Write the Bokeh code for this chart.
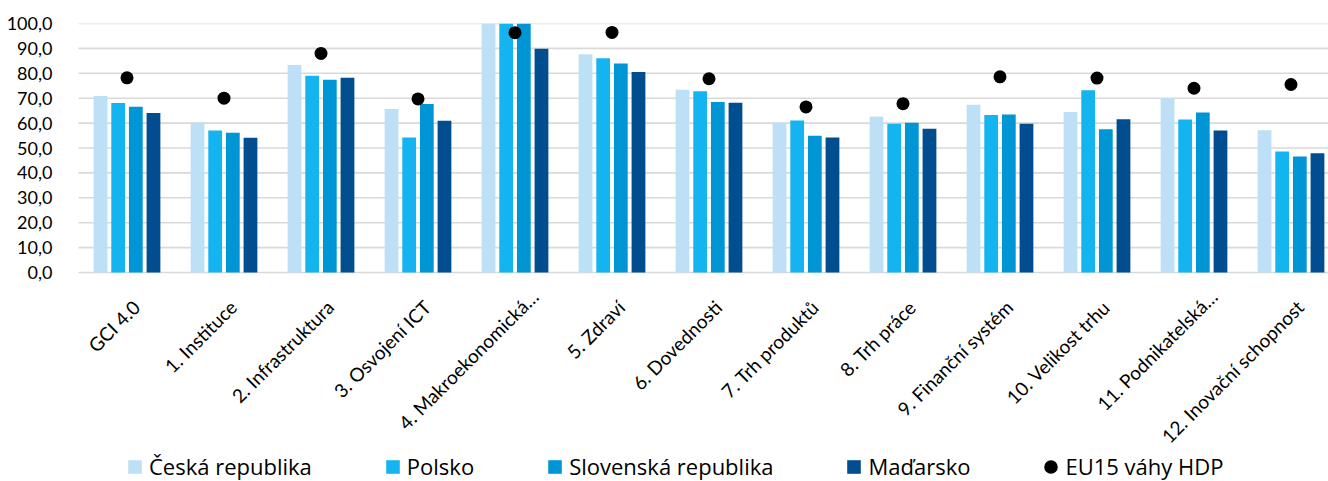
import numpy as np
from bokeh.plotting import figure
from bokeh.models import Range1d, FixedTicker, Legend, LegendItem
from bokeh.core.properties import value
from bokeh.embed import file_html
from bokeh.resources import INLINE

categories = ["GCI 4.0", "1. Instituce", "2. Infrastruktura", "3. Osvojení ICT",
              "4. Makroekonomická…", "5. Zdraví", "6. Dovednosti", "7. Trh produktů",
              "8. Trh práce", "9. Finanční systém", "10. Velikost trhu",
              "11. Podnikatelská…", "12. Inovační schopnost"]
series_names = ["Česká republika", "Polsko", "Slovenská republika", "Maďarsko"]
cz = [70.9, 60.2, 83.3, 65.7, 100.0, 87.7, 73.4, 60.1, 62.7, 67.4, 64.5, 70.0, 57.1]
pl = [68.1, 57.0, 79.0, 54.2, 100.0, 86.0, 72.8, 61.0, 59.7, 63.3, 73.2, 61.4, 48.6]
sk = [66.6, 56.1, 77.4, 67.7, 100.0, 83.9, 68.5, 54.9, 60.1, 63.5, 57.5, 64.3, 46.6]
hu = [64.1, 54.1, 78.2, 60.9, 89.9, 80.5, 68.2, 54.2, 57.7, 59.7, 61.5, 57.0, 47.9]
eu15_name = "EU15 váhy HDP"
eu15 = [78.2, 70.0, 88.0, 69.7, 96.3, 96.4, 77.8, 66.5, 67.8, 78.6, 78.1, 74.0, 75.5]
y_ticks = [0, 10, 20, 30, 40, 50, 60, 70, 80, 90, 100]

colors = ["#BDE0F6", "#14B4F0", "#0096D6", "#004D8F"]
FONT = "Lato"

# layout geometry (pixels)
W, H = 1328, 481
LEFT, TOP = 62, 23
AX_LEFT_PX, AX_BOTTOM_PX = 78, 272
CAT_PX = 97.0
PX_PER_UNIT = (AX_BOTTOM_PX - TOP) / 100.0

x_start = -0.5 - (AX_LEFT_PX - LEFT) / CAT_PX
x_end = -0.5 + (W - AX_LEFT_PX) / CAT_PX
y_start = -(H - AX_BOTTOM_PX) / PX_PER_UNIT

idx = np.arange(len(categories))
p = figure(width=W, height=H, output_backend="svg", toolbar_location=None,
           x_range=Range1d(x_start, x_end), y_range=Range1d(y_start, 100),
           x_axis_location=None,
           min_border_left=LEFT, min_border_top=TOP, min_border_right=0, min_border_bottom=0)
p.outline_line_color = None
p.xgrid.grid_line_color = None
p.ygrid.grid_line_color = None

# horizontal gridlines (incl. baseline)
p.segment(x0=[-0.5] * len(y_ticks), x1=[x_end] * len(y_ticks), y0=y_ticks, y1=y_ticks,
          line_color="#D9D9D9", line_width=1.6)

items = []
offsets = [-0.273, -0.091, 0.091, 0.273]
for name, vals, col, off in zip(series_names, [cz, pl, sk, hu], colors, offsets):
    r = p.vbar(x=idx + off, top=vals, width=0.142, bottom=0, fill_color=col, line_color=None)
    items.append(LegendItem(label=name, renderers=[r]))

rd = p.ellipse(x=idx, y=eu15, width=13, height=13, width_units="screen", height_units="screen",
               fill_color="black", line_color=None)
items.append(LegendItem(label=eu15_name, renderers=[rd]))

# category labels, rotated 45 degrees, anchored at top-right under each category
shift = np.array([15.0 if c.endswith("…") else 0.0 for c in categories])
p.text(x=idx, y=np.zeros(len(idx)), text=categories, angle=np.pi / 4,
       x_offset=1 + shift * 0.707, y_offset=23 - shift * 0.707,
       text_align="right", text_baseline="top",
       text_font=value(FONT), text_font_size="19px", text_color="black")

p.yaxis.ticker = FixedTicker(ticks=y_ticks)
p.yaxis.major_label_overrides = {t: f"{t:.1f}".replace(".", ",") for t in y_ticks}
p.yaxis.axis_line_color = None
p.yaxis.major_tick_line_color = None
p.yaxis.minor_tick_line_color = None
p.yaxis.major_label_text_font = FONT
p.yaxis.major_label_text_font_size = "18px"
p.yaxis.major_label_text_color = "black"
p.yaxis.major_label_standoff = AX_LEFT_PX - 58 - (AX_LEFT_PX - LEFT)

legend = Legend(items=items, orientation="horizontal", location=(64, 0),
                glyph_width=17, glyph_height=17, label_standoff=6, spacing=72,
                margin=0, padding=2, border_line_color=None, background_fill_alpha=0,
                label_text_font="Open Sans", label_text_font_size="22px", label_text_color="black")
p.add_layout(legend, "center")

open("out.html", "w").write(file_html(p, INLINE))
